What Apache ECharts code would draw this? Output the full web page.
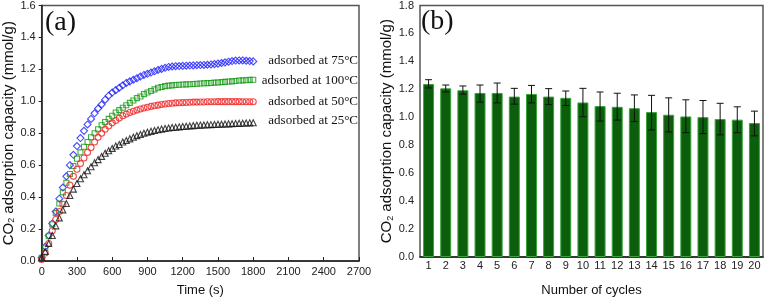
<!DOCTYPE html>
<html>
<head>
<meta charset="utf-8">
<script src="https://cdn.jsdelivr.net/npm/echarts@6/dist/echarts.min.js"></script>
<style>
  html, body { margin: 0; padding: 0; background: #fff; }
  #main { width: 767px; height: 302px; }
</style>
</head>
<body>
<div id="main"></div>
<script>
// (a) time axis, s
var times = [0,30,60,90,120,150,180,210,240,270,300,330,360,390,420,450,480,510,540,570,
  600,630,660,690,720,750,780,810,840,870,900,930,960,990,1020,1050,1080,1110,1140,1170,
  1200,1230,1260,1290,1320,1350,1380,1410,1440,1470,1500,1530,1560,1590,1620,1650,1680,1710,1740,1770,1800];

var at75 = [0.02,0.09,0.16,0.235,0.31,0.39,0.46,0.53,0.60,0.665,0.72,0.77,0.815,0.855,0.89,0.925,0.955,0.98,1.01,1.035,
  1.055,1.07,1.085,1.10,1.115,1.125,1.135,1.145,1.155,1.165,1.172,1.18,1.188,1.196,1.203,1.21,1.215,1.218,1.22,1.221,
  1.222,1.223,1.224,1.225,1.226,1.227,1.228,1.229,1.231,1.233,1.236,1.24,1.244,1.248,1.252,1.255,1.256,1.256,1.254,1.252,1.25];

var at100 = [0.02,0.08,0.155,0.23,0.30,0.36,0.43,0.49,0.545,0.595,0.64,0.68,0.715,0.745,0.775,0.80,0.825,0.85,0.87,0.89,
  0.91,0.93,0.945,0.96,0.975,0.99,1.005,1.02,1.03,1.045,1.055,1.065,1.075,1.085,1.09,1.095,1.098,1.10,1.102,1.104,
  1.105,1.106,1.107,1.108,1.11,1.112,1.113,1.114,1.115,1.117,1.118,1.12,1.122,1.124,1.125,1.127,1.13,1.131,1.132,1.134,1.135];

var at50 = [0.01,0.05,0.11,0.19,0.26,0.31,0.355,0.41,0.475,0.53,0.575,0.61,0.645,0.68,0.71,0.745,0.775,0.80,0.825,0.845,
  0.865,0.88,0.895,0.91,0.92,0.93,0.938,0.945,0.952,0.958,0.963,0.968,0.972,0.976,0.98,0.983,0.986,0.988,0.99,0.991,
  0.992,0.993,0.994,0.995,0.995,0.996,0.996,0.997,0.997,0.997,0.998,0.998,0.998,0.998,0.998,0.998,0.998,0.997,0.997,0.997,0.997];

var at25 = [0.02,0.06,0.11,0.16,0.22,0.27,0.32,0.36,0.41,0.45,0.485,0.515,0.54,0.565,0.59,0.615,0.635,0.655,0.675,0.69,
  0.705,0.72,0.73,0.745,0.755,0.765,0.775,0.785,0.792,0.80,0.806,0.812,0.817,0.822,0.826,0.83,0.833,0.836,0.838,0.84,
  0.842,0.844,0.846,0.848,0.85,0.851,0.852,0.853,0.854,0.855,0.856,0.857,0.858,0.859,0.86,0.861,0.862,0.863,0.864,0.865,0.866];

// (b) cycling
var cycles = ['1','2','3','4','5','6','7','8','9','10','11','12','13','14','15','16','17','18','19','20'];
var capacity = [1.238,1.207,1.193,1.174,1.174,1.148,1.167,1.148,1.139,1.106,1.08,1.075,1.065,1.037,1.018,1.006,1.001,0.987,0.983,0.959];
var errLow  = [1.21,1.181,1.165,1.108,1.103,1.094,1.103,1.091,1.084,1.004,0.973,0.98,0.969,0.909,0.895,0.89,0.883,0.874,0.89,0.867];
var errHigh = [1.269,1.231,1.224,1.231,1.245,1.207,1.228,1.205,1.188,1.207,1.181,1.172,1.16,1.157,1.139,1.125,1.12,1.10,1.075,1.044];

var sans = 'Liberation Sans, Arial, sans-serif';
var serif = 'Liberation Serif, Times New Roman, serif';

function pairs(vals) {
  var out = [];
  for (var i = 0; i < times.length; i++) out.push([times[i], vals[i]]);
  return out;
}

function markSeries(name, vals, symbol, color, size) {
  return {
    name: name, type: 'scatter', xAxisIndex: 0, yAxisIndex: 0,
    symbol: symbol, symbolSize: size,
    itemStyle: { color: 'rgba(0,0,0,0)', borderColor: color, borderWidth: 1.1 },
    data: pairs(vals)
  };
}

var errData = [];
for (var i = 0; i < cycles.length; i++) errData.push([i, errLow[i], errHigh[i]]);

var axisName = 'CO{sub|2} adsorption capacity (mmol/g)';
var nameStyle = {
  fontFamily: sans, fontSize: 15, color: '#111',
  rich: { sub: { fontFamily: sans, fontSize: 9, color: '#111', verticalAlign: 'bottom', padding: [7, 0, 0, 0] } }
};
var tickLabel = { fontFamily: sans, fontSize: 11, color: '#222' };

var chart = echarts.init(document.getElementById('main'));
chart.setOption({
  animation: false,
  grid: [
    { left: 40, right: 408, top: 5, bottom: 39, show: true, borderColor: '#555', borderWidth: 1.5 },
    { left: 420, right: 4, top: 5, bottom: 43, show: true, borderColor: '#555', borderWidth: 1.5 }
  ],
  xAxis: [{
    gridIndex: 0, type: 'value', min: 0, max: 2700, interval: 300,
    name: 'Time (s)', nameLocation: 'middle', nameGap: 23,
    nameTextStyle: { fontFamily: sans, fontSize: 13, color: '#111' },
    axisLine: { lineStyle: { color: '#222', width: 1.5 } },
    axisTick: { inside: true, length: 4, lineStyle: { color: '#222' } },
    axisLabel: Object.assign({ margin: 5, formatter: function (v) { return String(v); } }, tickLabel),
    splitLine: { show: false }
  }, {
    gridIndex: 1, type: 'category', data: cycles,
    name: 'Number of cycles', nameLocation: 'middle', nameGap: 27,
    nameTextStyle: { fontFamily: sans, fontSize: 13, color: '#111' },
    axisLine: { lineStyle: { color: '#222', width: 1.5 } },
    axisTick: { show: false },
    axisLabel: Object.assign({ margin: 3, interval: 0 }, tickLabel)
  }],
  yAxis: [{
    gridIndex: 0, type: 'value', min: 0, max: 1.6, interval: 0.2,
    name: axisName, nameLocation: 'middle', nameGap: 25, nameTextStyle: nameStyle,
    axisLine: { lineStyle: { color: '#222', width: 1.5 } },
    axisTick: { length: 3, lineStyle: { color: '#222' } },
    axisLabel: Object.assign({ margin: 6, formatter: function (v) { return v.toFixed(1); } }, tickLabel),
    splitLine: { show: false }
  }, {
    gridIndex: 1, type: 'value', min: 0, max: 1.8, interval: 0.2,
    name: axisName, nameLocation: 'middle', nameGap: 24, nameTextStyle: nameStyle,
    axisLine: { lineStyle: { color: '#222', width: 1.5 } },
    axisTick: { length: 3, lineStyle: { color: '#222' } },
    axisLabel: Object.assign({ margin: 6, formatter: function (v) { return v.toFixed(1); } }, tickLabel),
    splitLine: { show: false }
  }],
  graphic: [
    { type: 'text', left: 45, top: 9, style: { text: '(a)', font: '28px ' + serif, fill: '#111' } },
    { type: 'text', left: 421, top: 8, style: { text: '(b)', font: '28px ' + serif, fill: '#111' } },
    { type: 'text', x: 358, y: 61, style: { text: 'adsorbed at 75°C', font: '13px ' + serif, fill: '#111', align: 'right', verticalAlign: 'middle' } },
    { type: 'text', x: 358, y: 81, style: { text: 'adsorbed at 100°C', font: '13px ' + serif, fill: '#111', align: 'right', verticalAlign: 'middle' } },
    { type: 'text', x: 358, y: 102, style: { text: 'adsorbed at 50°C', font: '13px ' + serif, fill: '#111', align: 'right', verticalAlign: 'middle' } },
    { type: 'text', x: 358, y: 121, style: { text: 'adsorbed at 25°C', font: '13px ' + serif, fill: '#111', align: 'right', verticalAlign: 'middle' } }
  ],
  series: [
    markSeries('75', at75, 'diamond', '#1a1aff', 7),
    markSeries('100', at100, 'rect', '#119911', 5),
    markSeries('50', at50, 'circle', '#ee2222', 6),
    markSeries('25', at25, 'triangle', '#111111', 6),
    {
      type: 'bar', xAxisIndex: 1, yAxisIndex: 1, data: capacity, barWidth: '64%',
      itemStyle: { color: '#0b5e0b', borderColor: '#3aa43a', borderWidth: 1 }
    },
    {
      type: 'custom', xAxisIndex: 1, yAxisIndex: 1, data: errData, z: 5,
      renderItem: function (params, api) {
        var lo = api.coord([api.value(0), api.value(1)]);
        var hi = api.coord([api.value(0), api.value(2)]);
        var w = 3.5;
        var st = { stroke: '#111', lineWidth: 1 };
        return {
          type: 'group',
          children: [
            { type: 'line', shape: { x1: lo[0], y1: lo[1], x2: hi[0], y2: hi[1] }, style: st },
            { type: 'line', shape: { x1: lo[0] - w, y1: lo[1], x2: lo[0] + w, y2: lo[1] }, style: st },
            { type: 'line', shape: { x1: hi[0] - w, y1: hi[1], x2: hi[0] + w, y2: hi[1] }, style: st }
          ]
        };
      }
    }
  ]
});
</script>
</body>
</html>
